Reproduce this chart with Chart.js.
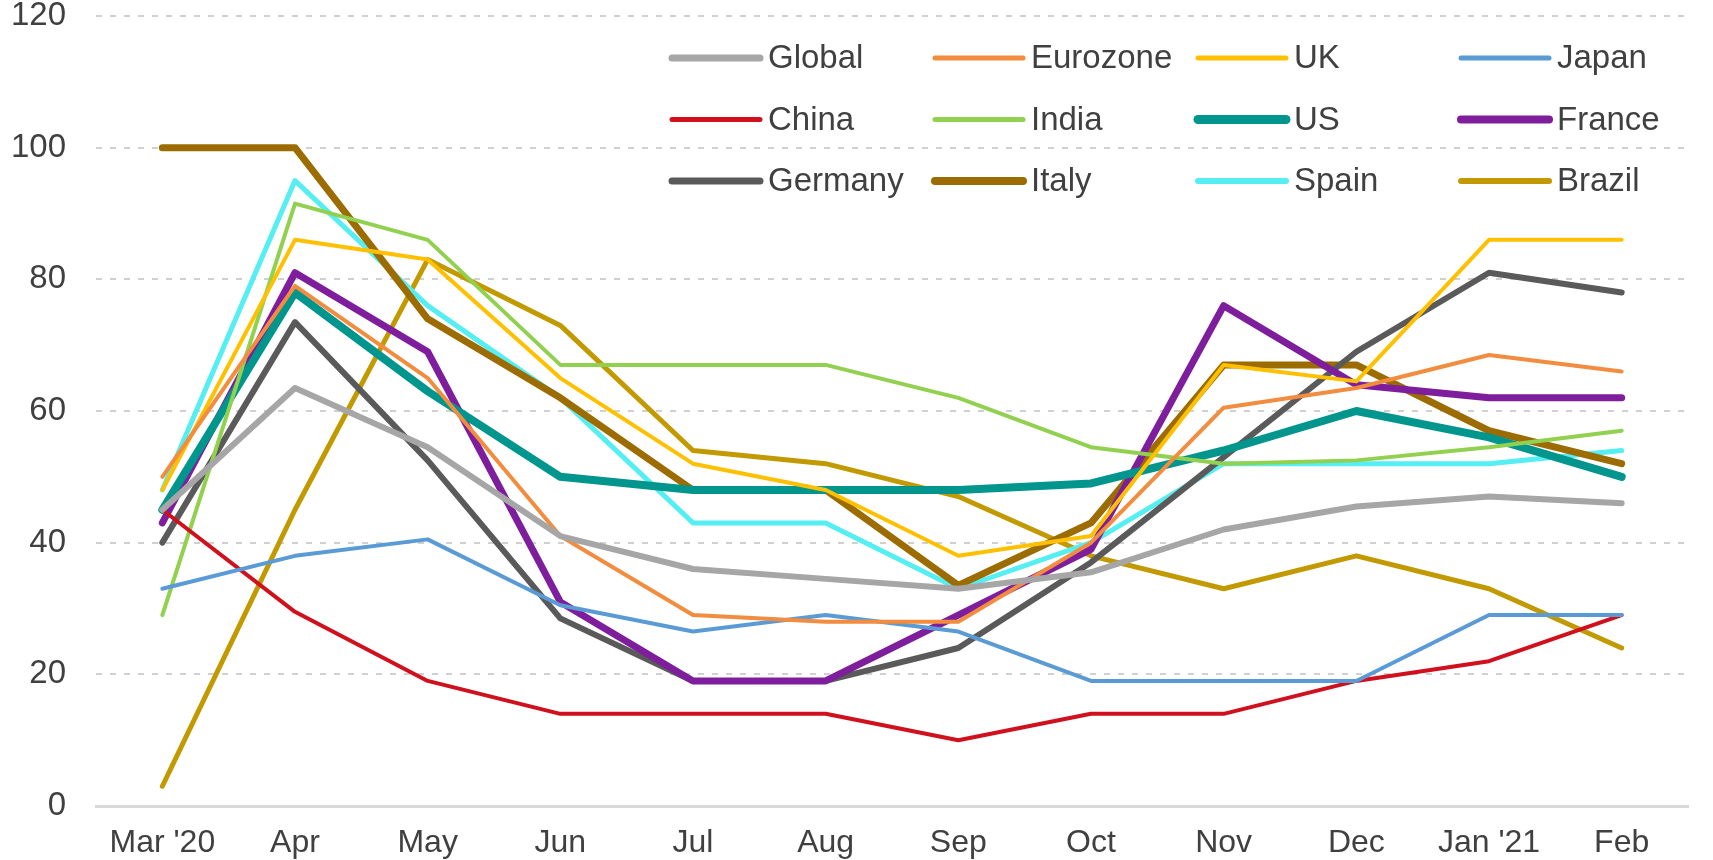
<!DOCTYPE html>
<html>
<head>
<meta charset="utf-8">
<title>Grafico</title>
<script src="https://cdn.jsdelivr.net/npm/chart.js@4"></script>
<style>
    body { margin: 0; background: #fff; }
</style>
</head>
<body>
<canvas id="grafico" width="1713" height="860"></canvas>
<script>
var mesi = ["Mar '20", "Apr", "May", "Jun", "Jul", "Aug", "Sep", "Oct", "Nov", "Dec", "Jan '21", "Feb"];
var tickY = [0, 20, 40, 60, 80, 100, 120];

var global = [45, 63.5, 54.5, 41, 36, 34.5, 33, 35.5, 42, 45.5, 47, 46];
var eurozone = [50, 79, 65, 41, 29, 28, 28, 40, 60.5, 63.5, 68.5, 66];
var uk = [48, 86, 83, 65, 52, 48, 38, 41, 67, 64.5, 86, 86];
var japan = [33, 38, 40.5, 30.5, 26.5, 29, 26.5, 19, 19, 19, 29, 29];
var china = [45, 29.5, 19, 14, 14, 14, 10, 14, 14, 19, 22, 29];
var india = [29, 91.5, 86, 67, 67, 67, 62, 54.5, 52, 52.5, 54.5, 57];
var us = [45, 78, 63, 50, 48, 48, 48, 49, 54, 60, 56, 50];
var france = [43, 81, 69, 31, 19, 19, 29, 39, 76, 64, 62, 62];
var germany = [40, 73.5, 52.5, 28.5, 19, 19, 24, 37, 53, 69, 81, 78];
var italy = [100, 100, 74, 62, 48, 48, 33.5, 43, 67, 67, 57, 52];
var spain = [48, 95, 76, 62, 43, 43, 33, 40, 52, 52, 52, 54];
var brazil = [3, 45, 83, 73, 54, 52, 47, 38, 33, 38, 33, 24];

var font = '"Liberation Sans", Arial, sans-serif';
var grigioTesto = "#404040";

function serie(nome, valori, colore, spessore) {
    return {
        label: nome,
        data: valori,
        borderColor: colore,
        backgroundColor: colore,
        borderWidth: spessore,
        pointRadius: 0,
        tension: 0,
        fill: false,
        borderCapStyle: "round",
        borderJoinStyle: "round"
    };
}

// legenda disegnata a mano: 4 colonne dentro l'area del grafico
var legendaGriglia = {
    id: "legendaGriglia",
    afterDraw: function (chart) {
        var ctx = chart.ctx;
        ctx.save();
        ctx.font = "33px " + font;
        ctx.textBaseline = "middle";
        chart.data.datasets.forEach(function (ds, i) {
            var col = i % 4;
            var riga = Math.floor(i / 4);
            var x = 672 + col * 263;
            var y = 58 + riga * 61.5;
            ctx.strokeStyle = ds.borderColor;
            ctx.lineWidth = ds.borderWidth + 1;
            ctx.lineCap = "round";
            ctx.beginPath();
            ctx.moveTo(x, y);
            ctx.lineTo(x + 88, y);
            ctx.stroke();
            ctx.fillStyle = grigioTesto;
            ctx.fillText(ds.label, x + 96, y + 1);
        });
        ctx.restore();
    }
};

var ctx = document.getElementById("grafico");
var grafico = new Chart(ctx, {
    type: "line",
    data: {
        labels: mesi,
        datasets: [
            serie("Global", global, "#A6A6A6", 6),
            serie("Eurozone", eurozone, "#F28C3F", 4),
            serie("UK", uk, "#FFC000", 4),
            serie("Japan", japan, "#5B9BD5", 4),
            serie("China", china, "#D0101C", 4),
            serie("India", india, "#92D050", 4),
            serie("US", us, "#00958D", 8),
            serie("France", france, "#7E1E9C", 7),
            serie("Germany", germany, "#5A5A5A", 6),
            serie("Italy", italy, "#9C6C00", 7),
            serie("Spain", spain, "#55EEF2", 5),
            serie("Brazil", brazil, "#C29A00", 5)
        ]
    },
    options: {
        responsive: false,
        animation: false,
        layout: { padding: { top: 16, right: 25, left: 0, bottom: 0 } },
        plugins: {
            legend: { display: false },
            tooltip: { enabled: false }
        },
        scales: {
            x: {
                offset: true,
                grid: { display: false },
                border: { display: true, color: "#D9D9D9", width: 3 },
                ticks: { color: grigioTesto, font: { family: font, size: 32 }, padding: 10, maxRotation: 0, autoSkip: false },
                afterFit: function (scale) {
                    scale.height = 54;
                    scale.paddingLeft = 0;
                    scale.paddingRight = 0;
                }
            },
            y: {
                min: 0,
                max: 120,
                afterBuildTicks: function (scale) {
                    scale.ticks = tickY.map(function (v) { return { value: v }; });
                },
                grid: { color: "#D0D0D0", lineWidth: 2, drawTicks: false },
                border: { display: false, dash: [6, 8] },
                ticks: { color: grigioTesto, font: { family: font, size: 33 }, padding: 30 },
                afterFit: function (scale) {
                    scale.width = 96;
                    scale.paddingTop = 0;
                    scale.paddingBottom = 0;
                }
            }
        }
    },
    plugins: [legendaGriglia]
});
</script>
</body>
</html>
